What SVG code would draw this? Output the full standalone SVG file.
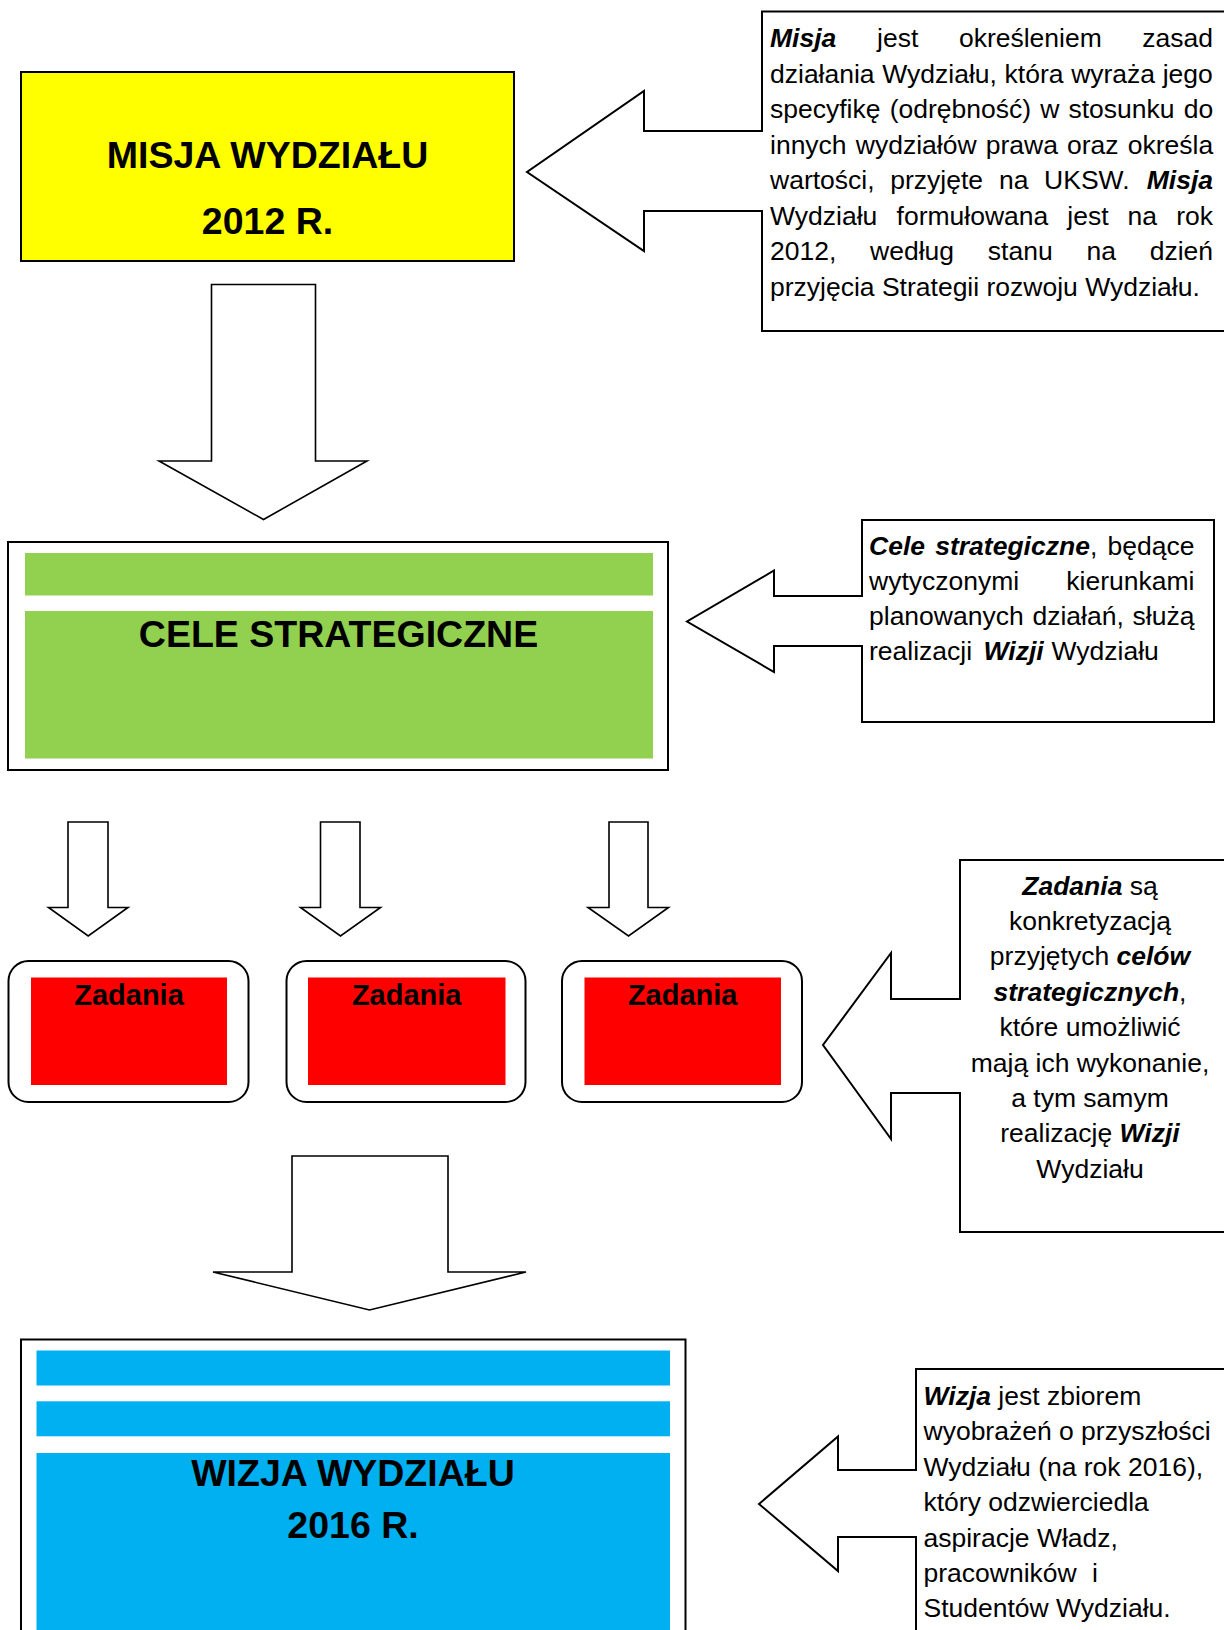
<svg xmlns="http://www.w3.org/2000/svg" width="1224" height="1630" viewBox="0 0 1224 1630">
<style>
.box{fill:#fff;stroke:#000;stroke-width:2}
.arr{fill:#fff;stroke:#000;stroke-width:1.6;stroke-linejoin:miter}
.call{fill:#fff;stroke:#000;stroke-width:2;stroke-linejoin:miter}
.t{font-family:"Liberation Sans",Arial,sans-serif;font-size:26.5px;fill:#000}
.bi{font-weight:bold;font-style:italic}
.h{font-family:"Liberation Sans",Arial,sans-serif;font-size:37.5px;font-weight:bold;fill:#000;text-anchor:middle}
.z{font-family:"Liberation Sans",Arial,sans-serif;font-size:29px;font-weight:bold;fill:#000;text-anchor:middle}
.c{text-anchor:middle}
.e{text-anchor:end}
</style>
<rect width="1224" height="1630" fill="#fff"/>

<g id="connectors">
  <path class="arr" d="M211.5,284.5 L315.5,284.5 L315.5,461 L367,461 L263.5,519.5 L159,461 L211.5,461 Z"/>
  <path class="arr" d="M68,822 L108,822 L108,907.5 L128,907.5 L88.2,936 L48.5,907.5 L68,907.5 Z"/>
  <path class="arr" d="M320.5,822 L360,822 L360,907.5 L380.5,907.5 L340.5,936 L300.5,907.5 L320.5,907.5 Z"/>
  <path class="arr" d="M609,822 L648,822 L648,907.5 L668.5,907.5 L628.5,936 L588,907.5 L609,907.5 Z"/>
  <path class="arr" d="M292,1156 L448,1156 L448,1272 L526,1272 L369.5,1310 L213,1272 L292,1272 Z"/>
</g>

<g id="misja">
  <rect x="21" y="72" width="493" height="189" fill="#FFFF00" stroke="#000" stroke-width="2"/>
  <text class="h" x="267.5" y="167.5">MISJA WYDZIAŁU</text>
  <text class="h" x="267.5" y="233.5">2012 R.</text>
</g>

<g id="misja-note">
  <path class="call" d="M1232,11.5 L762,11.5 L762,131 L644,131 L644,91 L527,172 L644,251 L644,211 L762,211 L762,331 L1232,331 Z"/>
  <text class="t" y="47"><tspan class="bi" x="770">Misja</tspan><tspan x="877">jest</tspan><tspan x="958.9">określeniem</tspan></text>
  <text class="t e" x="1213" y="47">zasad</text>
  <text class="t" x="770" y="82.5" word-spacing="0.3">działania Wydziału, która wyraża jego</text>
  <text class="t" x="770" y="118" word-spacing="1.8">specyfikę (odrębność) w stosunku do</text>
  <text class="t" x="770" y="153.5" word-spacing="1.8">innych wydziałów prawa oraz określa</text>
  <text class="t" y="189"><tspan x="770">wartości,</tspan><tspan x="890.3">przyjęte</tspan><tspan x="998.9">na</tspan><tspan x="1044.1">UKSW.</tspan></text>
  <text class="t e bi" x="1213" y="189">Misja</text>
  <text class="t" y="224.5"><tspan x="770">Wydziału</tspan><tspan x="896.6">formułowana</tspan><tspan x="1067.3">jest</tspan><tspan x="1127.6">na</tspan></text>
  <text class="t e" x="1213" y="224.5">rok</text>
  <text class="t" y="260"><tspan x="770">2012,</tspan><tspan x="870.1">według</tspan><tspan x="987.8">stanu</tspan><tspan x="1086.4">na</tspan></text>
  <text class="t e" x="1213" y="260">dzień</text>
  <text class="t" x="770" y="295.5">przyjęcia Strategii rozwoju Wydziału.</text>
</g>

<g id="cele">
  <rect class="box" x="8" y="542" width="660" height="228"/>
  <rect x="25" y="553" width="628" height="42.5" fill="#92D050"/>
  <rect x="25" y="611" width="628" height="147.5" fill="#92D050"/>
  <text class="h" x="338.5" y="646.5">CELE STRATEGICZNE</text>
</g>

<g id="cele-note">
  <path class="call" d="M1214,520 L862,520 L862,596 L774,596 L774,570.5 L687,621.5 L774,672 L774,646 L862,646 L862,722 L1214,722 Z"/>
  <text class="t" x="869" y="555" word-spacing="2.9"><tspan class="bi">Cele strategiczne</tspan>, będące</text>
  <text class="t" x="869" y="590">wytyczonymi</text>
  <text class="t e" x="1194.4" y="590">kierunkami</text>
  <text class="t" x="869" y="625" word-spacing="1.4">planowanych działań, służą</text>
  <text class="t" y="660"><tspan x="869">realizacji</tspan><tspan class="bi" x="983.5">Wizji</tspan><tspan x="1051.5">Wydziału</tspan></text>
</g>

<g id="zadania-1">
  <rect class="box" x="8.5" y="961" width="240" height="141" rx="20" ry="20"/>
  <rect x="31" y="977.5" width="196" height="107.5" fill="#FF0000"/>
  <text class="z" x="129" y="1005">Zadania</text>
</g>
<g id="zadania-2">
  <rect class="box" x="286.5" y="961" width="239" height="141" rx="20" ry="20"/>
  <rect x="308" y="977.5" width="197.5" height="107.5" fill="#FF0000"/>
  <text class="z" x="406.7" y="1005">Zadania</text>
</g>
<g id="zadania-3">
  <rect class="box" x="562" y="961" width="240" height="141" rx="20" ry="20"/>
  <rect x="584.5" y="977.5" width="196.5" height="107.5" fill="#FF0000"/>
  <text class="z" x="682.7" y="1005">Zadania</text>
</g>

<g id="zadania-note">
  <path class="call" d="M1232,860 L960,860 L960,999 L891,999 L891,953 L823,1045 L891,1139 L891,1093 L960,1093 L960,1232 L1232,1232 Z"/>
  <text class="t c" x="1090" y="894.5"><tspan class="bi">Zadania</tspan> są</text>
  <text class="t c" x="1090" y="929.9">konkretyzacją</text>
  <text class="t c" x="1090" y="965.3">przyjętych <tspan class="bi">celów</tspan></text>
  <text class="t c" x="1090" y="1000.7"><tspan class="bi">strategicznych</tspan>,</text>
  <text class="t c" x="1090" y="1036.1">które umożliwić</text>
  <text class="t c" x="1090" y="1071.5">mają ich wykonanie,</text>
  <text class="t c" x="1090" y="1106.9">a tym samym</text>
  <text class="t c" x="1090" y="1142.3">realizację <tspan class="bi">Wizji</tspan></text>
  <text class="t c" x="1090" y="1177.7">Wydziału</text>
</g>

<g id="wizja">
  <rect class="box" x="21" y="1339.5" width="664.5" height="310"/>
  <rect x="36.5" y="1350.5" width="633.5" height="35" fill="#00B0F0"/>
  <rect x="36.5" y="1401.3" width="633.5" height="35" fill="#00B0F0"/>
  <rect x="36.5" y="1453" width="633.5" height="190" fill="#00B0F0"/>
  <text class="h" x="353" y="1486">WIZJA WYDZIAŁU</text>
  <text class="h" x="353" y="1537.5">2016 R.</text>
</g>

<g id="wizja-note">
  <path class="call" d="M1232,1369 L916,1369 L916,1470 L838,1470 L838,1436.5 L759,1504 L838,1571 L838,1537 L916,1537 L916,1645 L1232,1645 Z"/>
  <text class="t" x="923.5" y="1405"><tspan class="bi">Wizja</tspan> jest zbiorem</text>
  <text class="t" x="923.5" y="1440.4">wyobrażeń o przyszłości</text>
  <text class="t" x="923.5" y="1475.8">Wydziału (na rok 2016),</text>
  <text class="t" x="923.5" y="1511.2">który odzwierciedla</text>
  <text class="t" x="923.5" y="1546.6">aspiracje Władz,</text>
  <text class="t" y="1582"><tspan x="923.5">pracowników</tspan><tspan x="1092">i</tspan></text>
  <text class="t" x="923.5" y="1617.4">Studentów Wydziału.</text>
</g>
</svg>
